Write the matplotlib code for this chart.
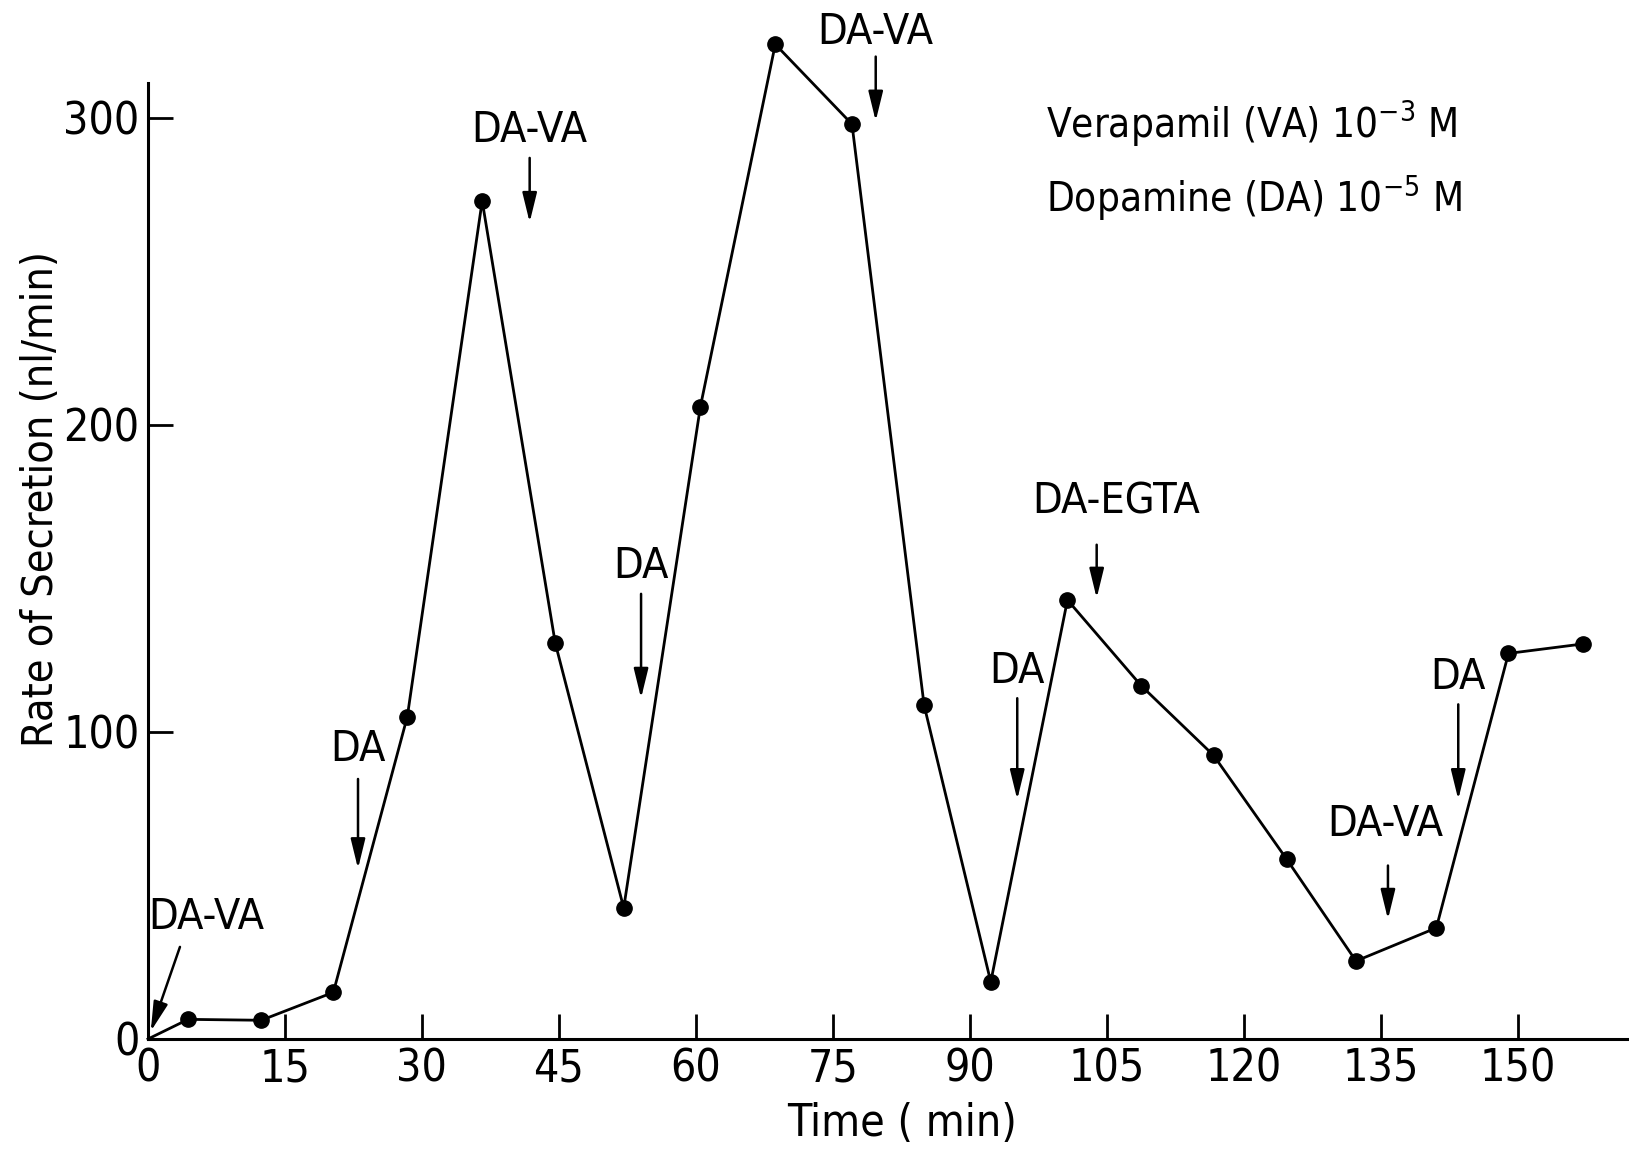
import matplotlib

matplotlib.use("Agg")
import matplotlib.pyplot as plt

# secretion time course
time_min = [0, 4.4, 12.4, 20.3, 28.4, 36.6, 44.6, 52.1, 60.5, 68.7, 77.1,
            85.0, 92.3, 100.7, 108.8, 116.7, 124.7, 132.3, 141.1, 149.0, 157.2]
rate = [0, 6.4, 6.1, 15.2, 105, 273, 129, 42.7, 206, 324, 298,
        108.7, 18.6, 143, 115, 92.4, 58.6, 25.4, 36.2, 125.6, 128.7]

# vertical arrow annotations: label, time, text y, arrow tail y, arrow head y
ann_labels = ["DA", "DA-VA", "DA", "DA-VA", "DA", "DA-EGTA", "DA-VA", "DA"]
ann_time = [23.0, 41.8, 54.0, 79.7, 95.2, 103.9, 135.8, 143.5]
ann_text_x = [23.0, 41.8, 54.0, 79.7, 95.2, 106.0, 135.5, 143.5]
ann_text_y = [94.5, 296, 154, 328, 120, 175, 70, 118]
ann_tail_y = [84.7, 287, 145, 320, 111, 161, 56.5, 109]
ann_head_y = [55.5, 266, 111, 299, 78, 143.6, 39, 78]

xticks = [0, 15, 30, 45, 60, 75, 90, 105, 120, 135, 150]
yticks = [0, 100, 200, 300]

plt.rcParams["font.family"] = ["DejaVu Sans"]
plt.rcParams["font.stretch"] = "condensed"
plt.rcParams["mathtext.default"] = "regular"

fig = plt.figure(figsize=(16.29, 11.49), dpi=100)
ax = fig.add_axes([148 / 1629, 110 / 1149, 1481 / 1629, 956 / 1149])

ax.plot(time_min, rate, color="black", linewidth=2.0, clip_on=False)
ax.plot(time_min[1:], rate[1:], "o", color="black", markersize=11, clip_on=False)

ax.set_xlim(0, 162.2)
ax.set_ylim(0, 311.4)
ax.set_xticks(xticks)
ax.set_yticks(yticks)
ax.tick_params(direction="in", length=18, width=2, labelsize=32, pad=6)
for side in ("top", "right"):
    ax.spines[side].set_visible(False)
for side in ("left", "bottom"):
    ax.spines[side].set_linewidth(2.2)

ax.set_xlabel("Time ( min)", fontsize=32)
ax.xaxis.set_label_coords(0.509, -0.066)
ax.set_ylabel("Rate of Secretion (nl/min)", fontsize=31)
ax.yaxis.set_label_coords(-0.058, 0.565)

arrow = dict(arrowstyle="-|>,head_width=0.22,head_length=0.9", color="black",
             lw=1.8, shrinkA=0, shrinkB=0, mutation_scale=20)
for lab, t, tx, ty, y0, y1 in zip(ann_labels, ann_time, ann_text_x,
                                  ann_text_y, ann_tail_y, ann_head_y):
    ax.text(tx, ty, lab, fontsize=31, ha="center", va="center")
    ax.annotate("", xy=(t, y1), xytext=(t, y0), arrowprops=arrow,
                annotation_clip=False)

# diagonal arrow at the origin
ax.text(6.35, 39.7, "DA-VA", fontsize=31, ha="center", va="center")
ax.annotate("", xy=(0.3, 2.5), xytext=(3.5, 30), arrowprops=arrow)

ax.text(98.4, 298, "Verapamil (VA) 10$^{-3}$ M", fontsize=29, ha="left", va="center")
ax.text(98.4, 274, "Dopamine (DA) 10$^{-5}$ M", fontsize=29, ha="left", va="center")

fig.savefig("out.png", dpi=100)
